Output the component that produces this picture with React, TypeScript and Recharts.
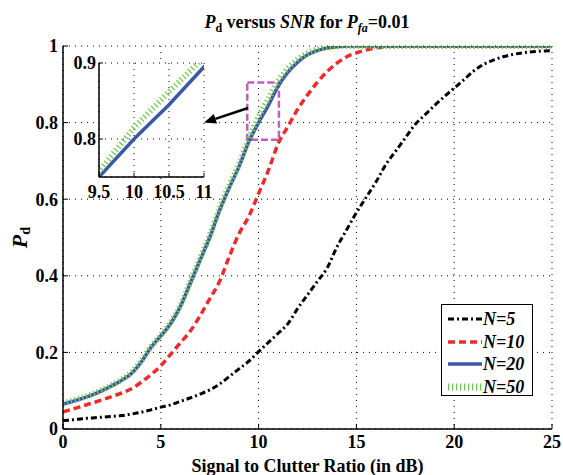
import React from 'react';
import { LineChart, Line, XAxis, YAxis, CartesianGrid, ReferenceArea, ReferenceLine, Label } from 'recharts';

const snr = [0,0.5,1,1.5,2,2.5,3,3.5,4,4.5,5,5.5,6,6.5,7,7.5,8,8.5,9,9.5,10,10.5,11,11.5,12,12.5,13,13.5,14,14.5,15,15.5,16,16.5,17,17.5,18,18.5,19,19.5,20,20.5,21,21.5,22,22.5,23,23.5,24,24.5,25];
const pdN5 = [0.022,0.024,0.027,0.029,0.031,0.033,0.035,0.039,0.044,0.050,0.057,0.063,0.072,0.081,0.091,0.102,0.117,0.137,0.157,0.177,0.202,0.226,0.250,0.275,0.315,0.350,0.385,0.420,0.475,0.520,0.565,0.605,0.645,0.690,0.725,0.760,0.795,0.820,0.845,0.868,0.890,0.912,0.935,0.952,0.963,0.972,0.978,0.982,0.985,0.987,0.988];
const pdN10 = [0.045,0.052,0.060,0.068,0.076,0.085,0.094,0.105,0.122,0.142,0.165,0.195,0.225,0.255,0.295,0.340,0.385,0.450,0.510,0.555,0.615,0.675,0.745,0.790,0.835,0.872,0.905,0.933,0.955,0.972,0.982,0.990,0.995,0.998,1,1,1,1,1,1,1,1,1,1,1,1,1,1,1,1,1];
const pdN20 = [0.065,0.072,0.080,0.089,0.100,0.113,0.127,0.145,0.175,0.213,0.243,0.275,0.320,0.380,0.440,0.500,0.570,0.630,0.685,0.750,0.800,0.845,0.895,0.932,0.958,0.977,0.988,0.995,0.998,1,1,1,1,1,1,1,1,1,1,1,1,1,1,1,1,1,1,1,1,1,1];
const pdN50 = [0.067,0.074,0.082,0.091,0.102,0.115,0.129,0.148,0.178,0.215,0.245,0.278,0.322,0.383,0.445,0.505,0.575,0.637,0.692,0.757,0.815,0.862,0.908,0.942,0.965,0.981,0.991,0.997,0.999,1,1,1,1,1,1,1,1,1,1,1,1,1,1,1,1,1,1,1,1,1,1];

const xTicks = [0, 5, 10, 15, 20, 25];
const yTicks = [0, 0.2, 0.4, 0.6, 0.8, 1];
const insetXTicks = [9.5, 10, 10.5, 11];
const insetYTicks = [0.8, 0.9];
const seriesNames = ['N=5', 'N=10', 'N=20', 'N=50'];
const seriesKeys = ['n5', 'n10', 'n20', 'n50'];

const zoomBox = { x1: 9.42, x2: 11.04, y1: 0.755, y2: 0.905 };
const arrowFrom = { x: 9.46, y: 0.838 };
const arrowTo = { x: 7.21, y: 0.8 };

const rows = snr.map((x, i) => ({ snr: x, n5: pdN5[i], n10: pdN10[i], n20: pdN20[i], n50: pdN50[i] }));

const FONT = "'Liberation Serif', 'DejaVu Serif', serif";
const styles: Record<string, { stroke: string; width: number; dash?: string }> = {
  n5: { stroke: '#000000', width: 3, dash: '6 3 2 3' },
  n10: { stroke: '#ee2b2b', width: 3.5, dash: '7 4' },
  n20: { stroke: '#3a58aa', width: 3.5 },
  n50: { stroke: '#78c850', width: 6, dash: '1.3 2.7' },
};

const tickStyle = { fill: '#000', fontSize: 18, fontWeight: 700, fontFamily: FONT };
const axisLineStyle = { stroke: '#000', strokeWidth: 1.5 };
const tickLineStyle = { stroke: '#000', strokeWidth: 1 };

const ArrowShape = (props: any) => {
  const { x1, y1, x2, y2 } = props;
  const ang = Math.atan2(y2 - y1, x2 - x1);
  const L = 12, W = 5;
  const bx = x2 - L * Math.cos(ang);
  const by = y2 - L * Math.sin(ang);
  const px = -Math.sin(ang) * W;
  const py = Math.cos(ang) * W;
  return (
    <g>
      <line x1={x1} y1={y1} x2={bx} y2={by} stroke="#000" strokeWidth={2.5} />
      <polygon points={`${x2},${y2} ${bx + px},${by + py} ${bx - px},${by - py}`} fill="#000" />
    </g>
  );
};

const YLabel = (props: any) => {
  const vb = props.viewBox || { x: 0, y: 46, width: 63, height: 383 };
  const cx = vb.x + 22;
  const cy = vb.y + vb.height / 2;
  return (
    <text x={cx} y={cy} transform={`rotate(-90 ${cx} ${cy})`} textAnchor="middle" dominantBaseline="middle" fontFamily={FONT} fontSize={22} fontWeight={700} fill="#000">
      <tspan fontStyle="italic">P</tspan>
      <tspan fontSize={14} dy={5}>d</tspan>
    </text>
  );
};

const LegendBox = () => (
  <div style={{ position: 'absolute', left: 441, top: 304, width: 90, height: 90, border: '1.5px solid #000', background: '#fff', fontFamily: FONT }}>
    {seriesKeys.map((k, i) => {
      const s = styles[k];
      const top = 14 + i * 22.7;
      return (
        <div key={k}>
          <svg style={{ position: 'absolute', left: 5, top: top - 6 }} width={36} height={12}>
            <line x1={1} y1={6} x2={35} y2={6} stroke={s.stroke} strokeWidth={k === 'n50' ? 7 : s.width} strokeDasharray={s.dash} />
          </svg>
          <div style={{ position: 'absolute', left: 41, top: top - 11, lineHeight: '22px', fontSize: 18, fontStyle: 'italic', fontWeight: 700, whiteSpace: 'nowrap' }}>{seriesNames[i]}</div>
        </div>
      );
    })}
  </div>
);

export default function App() {
  return (
    <div style={{ position: 'fixed', left: 0, top: 0, width: 563, height: 475, background: '#fff' }}>
      <LineChart width={563} height={475} data={rows} margin={{ top: 46, right: 11, bottom: 0, left: 0 }}>
        <CartesianGrid stroke="#000" strokeWidth={1} strokeDasharray="1 5" />
        <XAxis dataKey="snr" type="number" domain={[0, 25]} ticks={xTicks} height={46} tickSize={-5} tickMargin={11} axisLine={axisLineStyle} tickLine={tickLineStyle} tick={tickStyle} allowDataOverflow>
          <Label value="Signal to Clutter Ratio (in dB)" position="insideBottom" offset={3} fill="#000" fontSize={18} fontWeight={700} fontFamily={FONT} />
        </XAxis>
        <XAxis xAxisId="top" orientation="top" type="number" domain={[0, 25]} ticks={xTicks} height={0} tick={false} tickSize={-5} tickLine={tickLineStyle} axisLine={axisLineStyle} />
        <YAxis type="number" domain={[0, 1]} ticks={yTicks} width={63} tickSize={-5} tickMargin={10} axisLine={axisLineStyle} tickLine={tickLineStyle} tick={tickStyle} allowDataOverflow>
          <Label content={<YLabel />} />
        </YAxis>
        <YAxis yAxisId="right" orientation="right" type="number" domain={[0, 1]} ticks={yTicks} width={0} tick={false} tickSize={-5} tickLine={tickLineStyle} axisLine={axisLineStyle} />
        {seriesKeys.map((k, i) => (
          <Line key={k} name={seriesNames[i]} dataKey={k} type="monotone" stroke={styles[k].stroke} strokeWidth={styles[k].width} strokeDasharray={styles[k].dash} dot={false} activeDot={false} isAnimationActive={false} />
        ))}
        <ReferenceArea x1={zoomBox.x1} x2={zoomBox.x2} y1={zoomBox.y1} y2={zoomBox.y2} stroke="#bf5fbf" strokeWidth={2.5} strokeDasharray="7 3" fill="none" fillOpacity={0} ifOverflow="visible" />
        <ReferenceLine segment={[arrowFrom, arrowTo]} ifOverflow="visible" shape={ArrowShape} />
      </LineChart>

      <div style={{ position: 'absolute', left: 69, top: 53 }}>
        <LineChart width={150} height={165} data={rows} margin={{ top: 10, right: 15, bottom: 0, left: 0 }}>
          <CartesianGrid stroke="#000" strokeWidth={1} strokeDasharray="1 5" fill="#fff" />
          <XAxis dataKey="snr" type="number" domain={[9.5, 11]} ticks={insetXTicks} height={41} tickSize={-4} tickMargin={12} axisLine={axisLineStyle} tickLine={tickLineStyle} tick={tickStyle} allowDataOverflow interval={0} />
          <XAxis xAxisId="top" orientation="top" type="number" domain={[9.5, 11]} ticks={insetXTicks} height={0} tick={false} tickSize={-4} tickLine={tickLineStyle} axisLine={axisLineStyle} />
          <YAxis type="number" domain={[0.75, 0.9]} ticks={insetYTicks} width={30} tickSize={-4} tickMargin={7} axisLine={axisLineStyle} tickLine={tickLineStyle} tick={tickStyle} allowDataOverflow interval={0} />
          <YAxis yAxisId="right" orientation="right" type="number" domain={[0.75, 0.9]} ticks={insetYTicks} width={0} tick={false} tickSize={-4} tickLine={tickLineStyle} axisLine={axisLineStyle} />
          <Line dataKey="n20" type="linear" stroke={styles.n20.stroke} strokeWidth={3.5} dot={false} activeDot={false} isAnimationActive={false} />
          <Line dataKey="n50" type="linear" stroke={styles.n50.stroke} strokeWidth={6} strokeDasharray={styles.n50.dash} dot={false} activeDot={false} isAnimationActive={false} />
        </LineChart>
      </div>

      <div style={{ position: 'absolute', left: 107, top: 12, width: 400, textAlign: 'center', fontFamily: FONT, fontSize: 18, fontWeight: 700, lineHeight: '20px', whiteSpace: 'nowrap' }}>
        <i>P</i><span style={{ fontSize: 12, position: 'relative', top: 4 }}>d</span> versus <i>SNR</i> for <i>P</i><span style={{ fontSize: 12, position: 'relative', top: 4, fontStyle: 'italic' }}>fa</span>=0.01
      </div>

      <LegendBox />
    </div>
  );
}
